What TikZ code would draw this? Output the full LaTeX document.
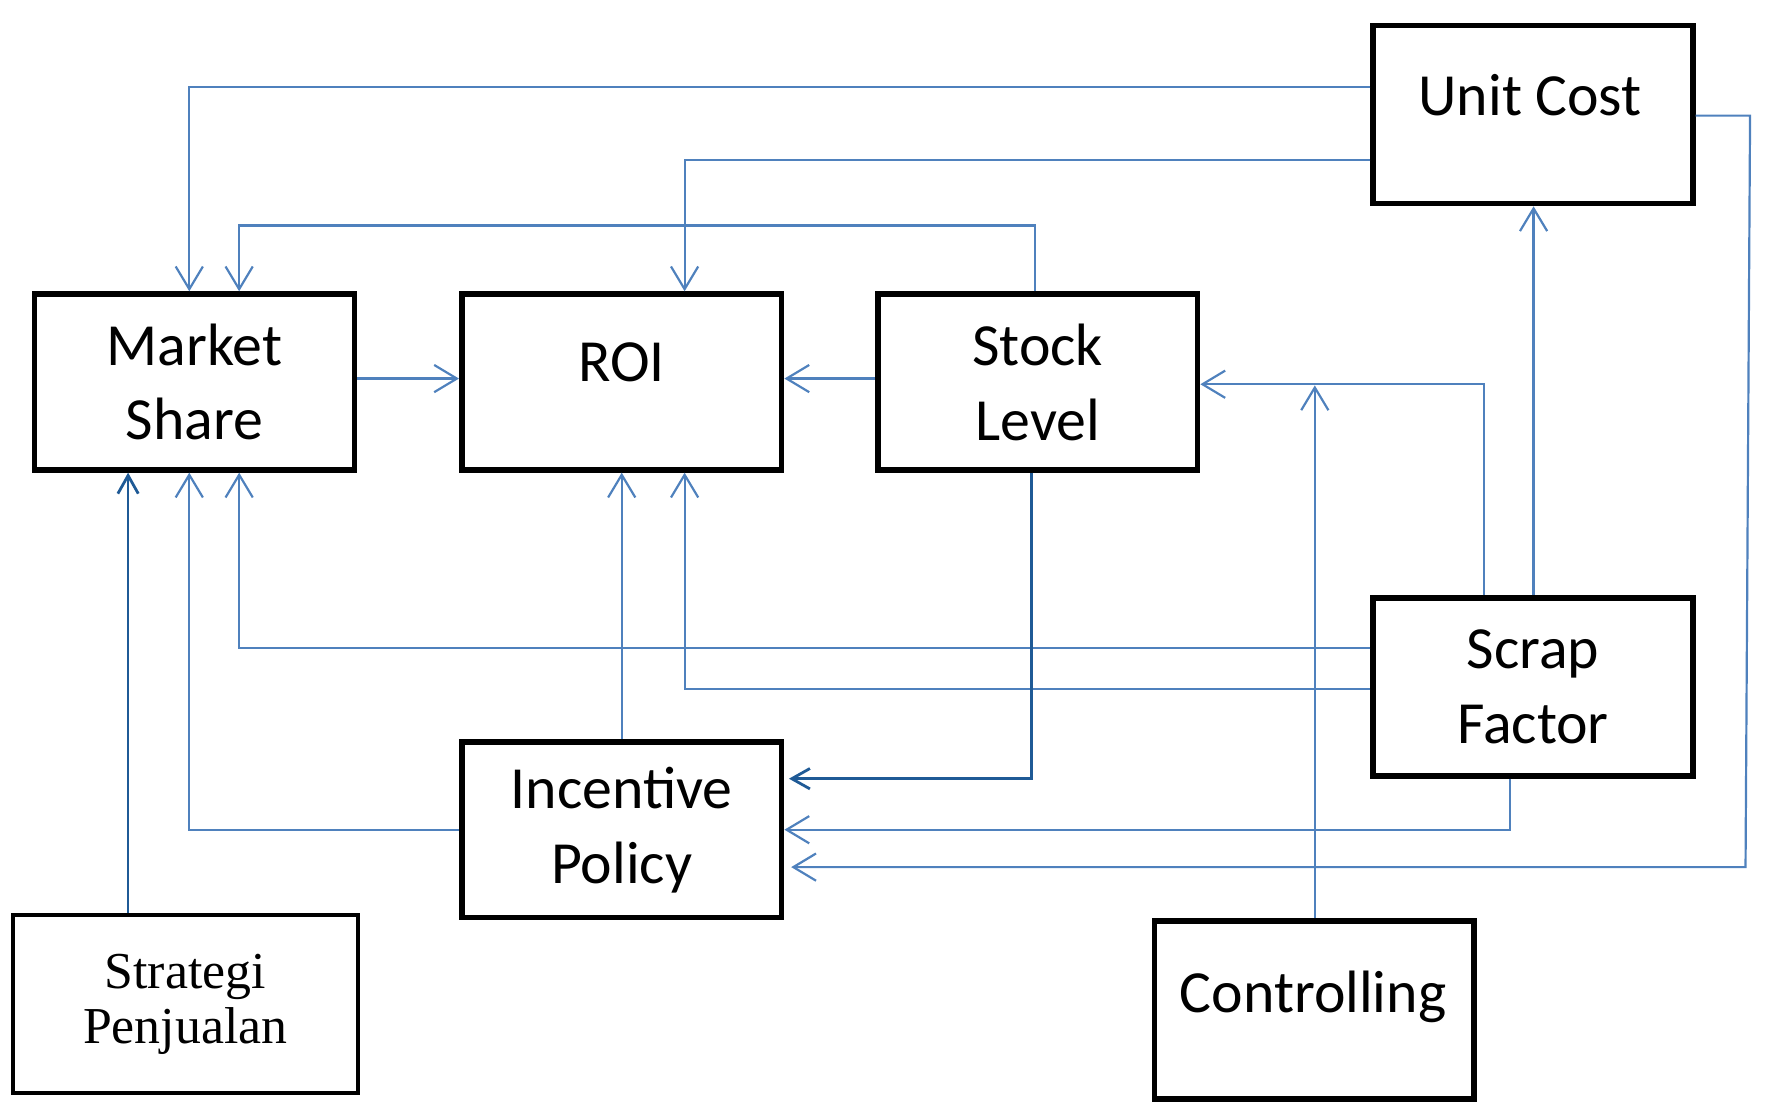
\documentclass[tikz,border=0pt]{standalone}
\usepackage{fontspec}
\setmainfont{Carlito}
\newfontfamily\spfont{Liberation Serif}
\usetikzlibrary{arrows.meta}
\definecolor{lblue}{HTML}{4F81BD}
\definecolor{dblue}{HTML}{1F5A96}
\begin{document}
\begin{tikzpicture}[x=0.01cm,y=-0.01cm,
  box/.style={draw=black, line width=1.4pt, minimum width=2.82cm, minimum height=1.55cm, inner sep=0pt, align=center, font=\fontsize{15}{18.8}\selectfont},
  lbl/.style={anchor=base, inner sep=0pt, font=\fontsize{15}{18.8}\selectfont},
  la/.style={draw=lblue, line width=0.55pt, -{Straight Barb[length=0.2cm,width=0.24cm]}},
  da/.style={draw=dblue, line width=0.7pt, -{Straight Barb[length=0.16cm,width=0.18cm]}},
]
\useasboundingbox (0,0) rectangle (1566,972);

\node[box] (ms) at (171.5,337) {Market\\Share};
\node[box] (roi) at (548.5,337) {};
\node[lbl] (roit) at (548.5,337) {ROI};
\node[box] (sl) at (915.5,337) {Stock\\Level};
\node[box,minimum height=1.57cm] (uc) at (1352.5,101) {};
\node[lbl] (uct) at (1350,102) {Unit Cost};
\node[box,minimum height=1.57cm] (sf) at (1352.5,606) {Scrap\\Factor};
\node[box] (ip) at (548.5,732) {Incentive\\Policy};
\node[box, line width=1pt, minimum width=3.04cm, minimum height=1.57cm, font=\spfont\fontsize{13}{13.6}\selectfont] (sp) at (163.5,886) {Strategi\\Penjualan};
\node[box,minimum height=1.57cm] (ct) at (1159.5,891) {};
\node[lbl] (ctt) at (1158.5,893) {Controlling};

\draw[la] (uc.west |- 0,77) -| (167,0 |- ms.north);
\draw[la] (uc.west |- 0,141) -| (604,0 |- roi.north);
\draw[la] (913,0 |- sl.north) -- (913,199) -| (211,0 |- ms.north);
\draw[la] (ms.east |- 0,334) -- (roi.west |- 0,334);
\draw[la] (sl.west |- 0,334) -- (roi.east |- 0,334);
\draw[la] (1309,0 |- sf.north) |- (sl.east |- 0,339);
\coordinate (cj) at (1160,340);
\draw[la] (1160,0 |- ct.north) -- (cj);
\draw[la] (1353,0 |- sf.north) -- (1353,0 |- uc.south);
\draw[la] (sf.west |- 0,572) -| (211,0 |- ms.south);
\draw[la] (sf.west |- 0,608) -| (604,0 |- roi.south);
\draw[da, shorten >=0.4mm] (910,0 |- sl.south) |- (ip.east |- 0,687);
\draw[la] (1332,0 |- sf.south) |- (ip.east |- 0,732);
\draw[la, shorten >=0.6mm] (uc.east |- 0,102) -- (1544,102) -- (1540,765) -- (ip.east |- 0,765);
\draw[la] (ip.north) -- (roi.south);
\draw[la] (ip.west |- 0,732) -| (167,0 |- ms.south);
\draw[da] (113,0 |- sp.north) -- (113,0 |- ms.south);
\end{tikzpicture}
\end{document}
